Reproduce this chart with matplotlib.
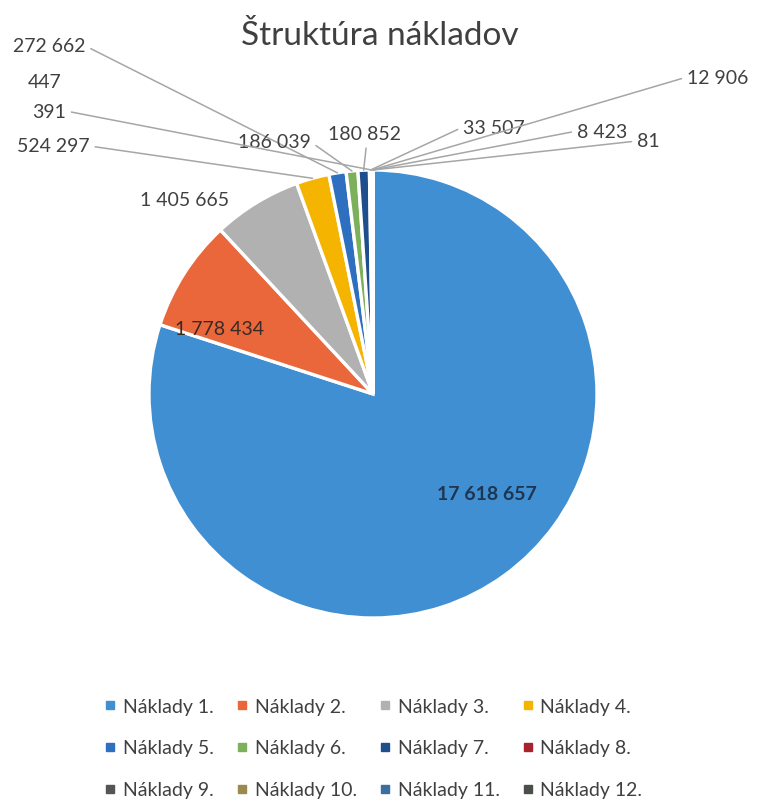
import numpy as np
import matplotlib.pyplot as plt
from matplotlib.lines import Line2D

plt.rcParams['font.family'] = ['Lato', 'DejaVu Sans']

# Data
categories = ['Náklady 1.', 'Náklady 2.', 'Náklady 3.', 'Náklady 4.',
              'Náklady 5.', 'Náklady 6.', 'Náklady 7.', 'Náklady 8.',
              'Náklady 9.', 'Náklady 10.', 'Náklady 11.', 'Náklady 12.',
              'Náklady 13.']
values = [17618657, 1778434, 1405665, 524297, 272662, 186039, 180852,
          33507, 391, 447, 12906, 8423, 81]
colors = ['#3f8fd2', '#e9673a', '#b1b1b1', '#f4b400', '#2f6fc0', '#7db05a',
          '#1f4e8c', '#a8222e', '#555555', '#9a8a50', '#3a6fa0', '#4a4f4a',
          '#7cafdd']
n_legend = 12

# label layout in figure pixels (left x, centre y from top), line anchor side
label_pos = [(437, 495), (175, 330), (140, 200), (17, 147), (13, 47),
             (238, 143), (328, 135), (463, 128), (32, 112), (28, 82),
             (687, 78), (577, 132), (637, 142)]
label_line = [None, None, None, (1, 0.5), (1, 0.5), (1, 0.5), (0.53, 0),
              (0, 0.5), (1, 0.5), None, (0, 0.5), (0, 0.5), (0, 0.5)]

W, H = 764, 812
fig = plt.figure(figsize=(W / 100, H / 100), dpi=100)
fig.patch.set_facecolor('white')


def px(x, y):
    return (x / W, 1 - y / H)


# pie axes: centre (373, 395), radius 224 px
ax = fig.add_axes([149 / W, 1 - 619 / H, 448 / W, 448 / H])
wedges, _ = ax.pie(values, colors=colors, startangle=90, counterclock=False,
                   wedgeprops=dict(edgecolor='white', linewidth=2.4))
ax.set_xlim(-1, 1)
ax.set_ylim(-1, 1)
ax.set_aspect('auto')
ax.axis('off')

text_col = '#404040'
line_col = '#a6a6a6'
for i, w in enumerate(wedges):
    txt = f'{values[i]:,}'.replace(',', ' ')
    mid = np.deg2rad((w.theta1 + w.theta2) / 2)
    xy = (np.cos(mid), np.sin(mid))
    if i == 0:
        ax.annotate(txt, xy=xy, xytext=px(*label_pos[i]), textcoords='figure fraction',
                    ha='left', va='center', fontsize=14, fontweight='bold', color='#1f3550')
    elif i == 1:
        ax.annotate(txt, xy=xy, xytext=px(*label_pos[i]), textcoords='figure fraction',
                    ha='left', va='center', fontsize=14, color='#3a2a25')
    elif label_line[i] is None:
        ax.annotate(txt, xy=xy, xytext=px(*label_pos[i]), textcoords='figure fraction',
                    ha='left', va='center', fontsize=14, color=text_col)
    else:
        ax.annotate(txt, xy=xy, xytext=px(*label_pos[i]), textcoords='figure fraction',
                    ha='left', va='center', fontsize=14, color=text_col,
                    arrowprops=dict(arrowstyle='-', color=line_col, lw=1.1,
                                    shrinkA=2, shrinkB=0, relpos=label_line[i]))

fig.text(*px(380, 36), 'Štruktúra nákladov', ha='center', va='center',
         fontsize=24, color=text_col)

# legend, row-wise order in 4 columns
handles = [Line2D([], [], linestyle='none', marker='s', markersize=6,
                  markerfacecolor=colors[i], markeredgecolor=colors[i])
           for i in range(n_legend)]
order = [0, 4, 8, 1, 5, 9, 2, 6, 10, 3, 7, 11]
leg = fig.legend([handles[k] for k in order], [categories[k] for k in order],
                 loc='center', bbox_to_anchor=px(374, 749), ncol=4, frameon=False,
                 fontsize=14, handlelength=0.5, handletextpad=0.4,
                 columnspacing=1.2, labelspacing=1.28, labelcolor=text_col)

fig.savefig('out.png', dpi=100)
